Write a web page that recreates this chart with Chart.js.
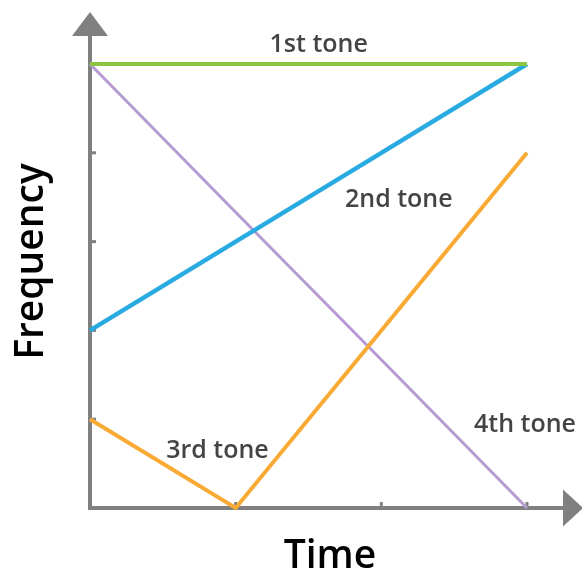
<!DOCTYPE html>
<html>
<head>
<meta charset="utf-8">
<script src="https://cdn.jsdelivr.net/npm/chart.js@4/dist/chart.umd.min.js"></script>
<style>
  html, body { margin: 0; padding: 0; background: #ffffff; }
  #wrap { width: 582px; height: 570px; }
</style>
</head>
<body>
<div id="wrap"><canvas id="c" width="582" height="570"></canvas></div>
<script>
// ---- data ----
const timeValues = [0, 1, 2, 3];
const tone1 = [5, 5, 5, 5];
const tone2 = [2, 3, 4, 5];
const tone3 = [1, 0, 2, 4];
const tone4 = [5, 3.33, 1.67, 0];
const seriesNames = ['1st tone', '2nd tone', '3rd tone', '4th tone'];
const xTickValues = [1, 2, 3];
const yTickValues = [1, 2, 3, 4, 5];
// annotation anchors (data units) for the series names
const labelTime = [1.57, 2.12, 0.875, 2.986];
const labelFreq = [5.14, 3.39, 0.563, 0.856];
const xTitle = 'Time';
const yTitle = 'Frequency';

const colors = ['#8dc63f', '#29abe2', '#f8aa35', '#b49bd2'];
const widths = [4, 4.5, 4, 3];

function pts(vals) { return timeValues.map((t, i) => ({ x: t, y: vals[i] })); }

const AXIS = '#808080';
const FONT = '"Open Sans", "Noto Sans", sans-serif';

const axesPlugin = {
  id: 'arrowAxes',
  beforeDatasetsDraw(chart) {
    const { ctx, scales: { x, y }, chartArea } = chart;
    const x0 = x.getPixelForValue(0);
    const y0 = y.getPixelForValue(0);
    ctx.save();
    ctx.strokeStyle = AXIS;
    ctx.fillStyle = AXIS;
    ctx.lineWidth = 4;
    ctx.lineCap = 'butt';
    // y axis
    ctx.beginPath();
    ctx.moveTo(x0, y0 + 2);
    ctx.lineTo(x0, chartArea.top);
    ctx.stroke();
    // x axis
    ctx.beginPath();
    ctx.moveTo(x0 - 2, y0);
    ctx.lineTo(chartArea.right, y0);
    ctx.stroke();
    // arrows
    ctx.beginPath();
    ctx.moveTo(x0 - 18, chartArea.top + 1);
    ctx.lineTo(x0 + 18, chartArea.top + 1);
    ctx.lineTo(x0, chartArea.top - 23);
    ctx.closePath();
    ctx.fill();
    ctx.beginPath();
    ctx.moveTo(chartArea.right, y0 - 18.5);
    ctx.lineTo(chartArea.right, y0 + 18.5);
    ctx.lineTo(chartArea.right + 20, y0);
    ctx.closePath();
    ctx.fill();
    // ticks (inward)
    yTickValues.forEach(v => {
      const py = y.getPixelForValue(v);
      ctx.fillRect(x0 + 2, py - 1.5, 4, 3);
    });
    xTickValues.forEach(v => {
      const px = x.getPixelForValue(v);
      ctx.fillRect(px - 1.5, y0 - 6, 3, 4);
    });
    ctx.restore();
  },
  afterDraw(chart) {
    const { ctx, scales: { x, y } } = chart;
    ctx.save();
    ctx.fillStyle = '#444444';
    ctx.font = '600 25px ' + FONT;
    ctx.textAlign = 'center';
    ctx.textBaseline = 'alphabetic';
    seriesNames.forEach((name, i) => {
      ctx.fillText(name, x.getPixelForValue(labelTime[i]), y.getPixelForValue(labelFreq[i]));
    });
    ctx.fillStyle = '#000000';
    ctx.font = '600 39px ' + FONT;
    ctx.fillText(xTitle, 330, 568);
    ctx.translate(43, 261.5);
    ctx.rotate(-Math.PI / 2);
    ctx.fillText(yTitle, 0, 0);
    ctx.restore();
  }
};

new Chart(document.getElementById('c'), {
  type: 'line',
  data: {
    datasets: [tone1, tone2, tone3, tone4].map((vals, i) => ({
      label: seriesNames[i],
      data: pts(vals),
      borderColor: colors[i],
      borderWidth: widths[i],
      pointRadius: 0,
      tension: 0,
      fill: false,
      clip: false
    }))
  },
  options: {
    responsive: false,
    animation: false,
    events: [],
    layout: { padding: { left: 90, right: 19, top: 35, bottom: 62 } },
    plugins: { legend: { display: false }, tooltip: { enabled: false }, title: { display: false } },
    scales: {
      x: { type: 'linear', min: 0, max: 3.247, display: false },
      y: { type: 'linear', min: 0, max: 5.327, display: false }
    }
  },
  plugins: [axesPlugin]
});
</script>
</body>
</html>
